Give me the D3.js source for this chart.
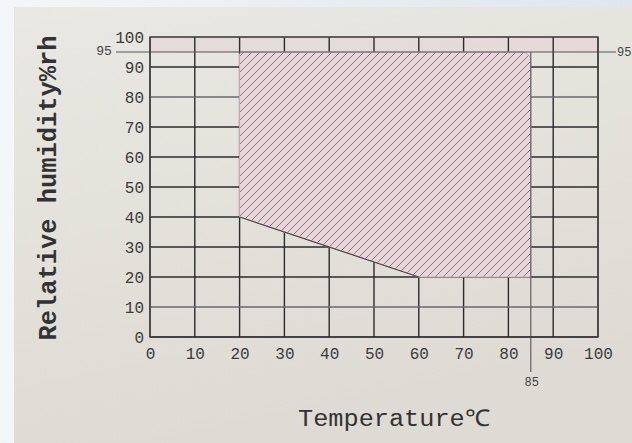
<!DOCTYPE html>
<html><head><meta charset="utf-8">
<script src="https://cdn.jsdelivr.net/npm/d3@7"></script>
<style>html,body{margin:0;padding:0;background:#fff;overflow:hidden}</style>
</head><body>
<svg id="c" width="632" height="443"></svg>
<script>
// ---- data ----
const xTicks = [0,10,20,30,40,50,60,70,80,90,100];
const yTicks = [0,10,20,30,40,50,60,70,80,90,100];
const regionTemp = [20, 20, 85, 85, 60];
const regionRH   = [40, 95, 95, 20, 20];
const cornerRadius = [0, 3, 10, 0, 0];
const refRH = 95;
const refTemp = 85;
const xTitle = "Temperature℃";
const yTitle = "Relative humidity%rh";

const svg = d3.select("#c");
const W = 632, H = 443;
const x = d3.scaleLinear().domain([0,100]).range([150,598]);
const y = d3.scaleLinear().domain([0,100]).range([337,37]);

const defs = svg.append("defs");
const lg = defs.append("linearGradient").attr("id","bgl").attr("x1","0").attr("x2","1").attr("y1","0").attr("y2","0");
lg.append("stop").attr("offset","0").attr("stop-color","#f4f6f9");
lg.append("stop").attr("offset","1").attr("stop-color","#dfe6ee");
const pg = defs.append("linearGradient").attr("id","paper").attr("x1","0").attr("x2","0.3").attr("y1","0").attr("y2","1");
pg.append("stop").attr("offset","0").attr("stop-color","#e9e8e2");
pg.append("stop").attr("offset","1").attr("stop-color","#dddbd3");
const hatch = defs.append("pattern").attr("id","hatch").attr("patternUnits","userSpaceOnUse")
  .attr("width",8).attr("height",8);
hatch.append("rect").attr("width",8).attr("height",8).attr("fill","#e8d5d9");
hatch.append("path").attr("d","M-2,2 l4,-4 M0,8 l8,-8 M6,10 l4,-4")
  .attr("stroke","#7f6d74").attr("stroke-width",0.9);

// background outside paper
svg.append("rect").attr("width",W).attr("height",H).attr("fill","url(#bgl)");
svg.append("rect").attr("x",14).attr("y",7).attr("width",W-14).attr("height",H-7).attr("fill","url(#paper)");

// faint pink top strip
svg.append("rect").attr("x",x(0)).attr("y",y(100)).attr("width",x(100)-x(0)).attr("height",y(refRH)-y(100))
  .attr("fill","#e4d4d6").attr("opacity",0.6);

// grid
const g = svg.append("g");
g.selectAll(".vx").data(xTicks).join("line")
  .attr("x1",d=>x(d)).attr("x2",d=>x(d)).attr("y1",y(100)).attr("y2",y(0))
  .attr("stroke",d=>(d===0||d===100)?"#444":"#2b2b2b").attr("stroke-width",1.4);
g.selectAll(".hy").data(yTicks).join("line")
  .attr("x1",x(0)).attr("x2",x(100)).attr("y1",d=>y(d)).attr("y2",d=>y(d))
  .attr("stroke",d=>(d===80||d===10||d===100)?"#6a6a6a":"#2b2b2b").attr("stroke-width",d=>(d===100)?1:1.4);

// region
function roundedPath(pts, radii){
  const n = pts.length; let d = "";
  for(let i=0;i<n;i++){
    const p = pts[i], a = pts[(i-1+n)%n], b = pts[(i+1)%n], r = radii[i];
    if(!r){ d += (i===0?"M":"L")+p[0]+","+p[1]; continue; }
    const da = Math.hypot(a[0]-p[0],a[1]-p[1]), db = Math.hypot(b[0]-p[0],b[1]-p[1]);
    const p1 = [p[0]+(a[0]-p[0])*r/da, p[1]+(a[1]-p[1])*r/da];
    const p2 = [p[0]+(b[0]-p[0])*r/db, p[1]+(b[1]-p[1])*r/db];
    d += (i===0?"M":"L")+p1[0]+","+p1[1]+"Q"+p[0]+","+p[1]+" "+p2[0]+","+p2[1];
  }
  return d+"Z";
}
const pts = regionTemp.map((t,i)=>[x(t), y(regionRH[i])]);
svg.append("path").attr("d",roundedPath(pts,cornerRadius))
  .attr("fill","url(#hatch)").attr("stroke","#c9b3b9").attr("stroke-width",1);
// sloped lower edge
svg.append("line").attr("x1",pts[0][0]).attr("y1",pts[0][1]).attr("x2",pts[4][0]).attr("y2",pts[4][1])
  .attr("stroke","#4a4a4a").attr("stroke-width",1.2);

// reference lines
svg.append("line").attr("x1",116).attr("x2",616).attr("y1",y(refRH)).attr("y2",y(refRH))
  .attr("stroke","#555").attr("stroke-width",1.1);
svg.append("line").attr("x1",x(refTemp)).attr("x2",x(refTemp)).attr("y1",y(refRH)).attr("y2",372)
  .attr("stroke","#555").attr("stroke-width",1.1);

// frame
svg.append("rect").attr("x",x(0)).attr("y",y(100)).attr("width",x(100)-x(0)).attr("height",y(0)-y(100))
  .attr("fill","none").attr("stroke","#3a3a3a").attr("stroke-width",1.3);

// axes labels
const font = "'Liberation Mono','DejaVu Sans Mono',monospace";
const yAxis = d3.axisLeft(y).tickValues(yTicks).tickSize(0).tickPadding(6).tickFormat(d3.format("d"));
const ya = svg.append("g").attr("transform","translate("+x(0)+",0)").call(yAxis);
ya.select(".domain").remove();
ya.selectAll("text").attr("font-family",font).attr("font-size",16).attr("fill","#3a3a3a");

const xAxis = d3.axisBottom(x).tickValues(xTicks).tickSize(0).tickPadding(11).tickFormat(d3.format("d"));
const xa = svg.append("g").attr("transform","translate(0,"+y(0)+")").call(xAxis);
xa.select(".domain").remove();
xa.selectAll("text").attr("font-family",font).attr("font-size",16).attr("fill","#3a3a3a");

svg.append("text").attr("x",x(refTemp)+1).attr("y",386).attr("text-anchor","middle")
  .attr("font-family",font).attr("font-size",12).attr("fill","#444").text(String(refTemp));
svg.append("text").attr("x",104).attr("y",y(refRH)+3).attr("text-anchor","middle")
  .attr("font-family",font).attr("font-size",13).attr("fill","#444").text(String(refRH));
svg.append("text").attr("x",617).attr("y",y(refRH)+4)
  .attr("font-family",font).attr("font-size",12).attr("fill","#444").text(String(refRH));

svg.append("text").attr("x",394).attr("y",426).attr("text-anchor","middle")
  .attr("font-family",font).attr("font-size",23).attr("fill","#333")
  .attr("textLength",192).attr("lengthAdjust","spacingAndGlyphs").text(xTitle);
svg.append("text").attr("transform","translate(56,188) rotate(-90)").attr("text-anchor","middle")
  .attr("font-family",font).attr("font-size",25).attr("font-weight","bold").attr("fill","#333")
  .attr("textLength",305).attr("lengthAdjust","spacingAndGlyphs").text(yTitle);
</script>
</body></html>
